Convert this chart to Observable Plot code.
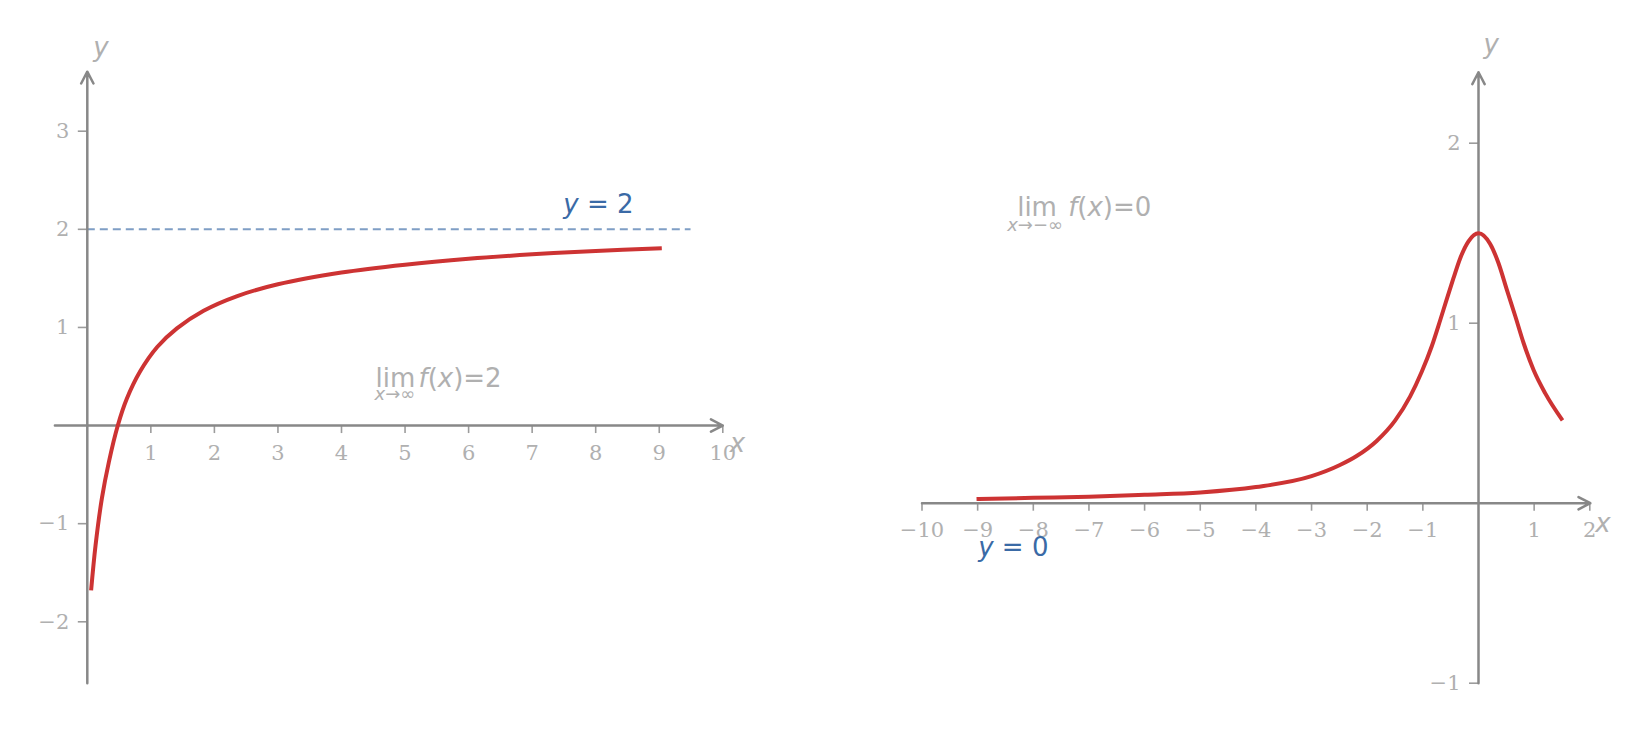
<!DOCTYPE html>
<html><head><meta charset="utf-8">
<script src="https://cdn.jsdelivr.net/npm/d3@7"></script>
<script src="https://cdn.jsdelivr.net/npm/@observablehq/plot@0.6"></script>
<style>
html,body{margin:0;padding:0;background:#fff;overflow:hidden;}
#wrap{position:relative;width:1649px;height:731px;}
#wrap svg{position:absolute;top:0;}
</style></head><body><div id="wrap"></div>
<script>
// ---------- data ----------
// Left panel: curve approaching y = 2 as x → ∞
const leftX = [0.06, 0.13, 0.23, 0.34, 0.48, 0.62, 0.83, 1.1, 1.41, 1.83, 2.36, 3.0, 4.0, 5.0, 6.0, 7.0, 8.0, 9.04];
const leftY = [-1.68, -1.22, -0.74, -0.37, 0, 0.27, 0.55, 0.80, 0.99, 1.17, 1.32, 1.44, 1.56, 1.64, 1.70, 1.745, 1.78, 1.807];
const leftAsymptote = [2];
const leftAsymptoteExtent = [0, 9.5];
const leftXTicks = [1, 2, 3, 4, 5, 6, 7, 8, 9, 10];
const leftXTickLabels = ["1", "2", "3", "4", "5", "6", "7", "8", "9", "10"];
const leftYTicks = [3, 2, 1, -1, -2];
const leftYTickLabels = ["3", "2", "1", "−1", "−2"];
const leftXAxisExtent = [-0.51, 10];
const leftYAxisExtent = [-2.625, 3.607];

// Right panel: bell-shaped curve approaching y = 0 as x → −∞
const rightX = [-9.02, -8, -7, -6, -5, -4, -3, -2.49, -2.19, -1.83, -1.5, -1.23, -1.02, -0.84, -0.69, -0.57, -0.45, -0.33, -0.18, 0, 0.21, 0.36, 0.51, 0.66, 0.81, 0.99, 1.2, 1.51];
const rightY = [0.023, 0.030, 0.036, 0.047, 0.060, 0.090, 0.150, 0.212, 0.262, 0.346, 0.459, 0.592, 0.73, 0.872, 1.015, 1.134, 1.25, 1.36, 1.455, 1.50, 1.44, 1.333, 1.185, 1.04, 0.89, 0.74, 0.61, 0.46];
const rightXTicks = [-10, -9, -8, -7, -6, -5, -4, -3, -2, -1, 1, 2];
const rightXTickLabels = ["−10", "−9", "−8", "−7", "−6", "−5", "−4", "−3", "−2", "−1", "1", "2"];
const rightYTicks = [2, 1, -1];
const rightYTickLabels = ["2", "1", "−1"];
const rightXAxisExtent = [-10, 2.01];
const rightYAxisExtent = [-1, 2.394];

// annotation anchors (data coordinates)
const leftAsymLabelPos = [7.49, 2.17];
const leftLimitPos = [4.535, 0.395];
const rightLimitPos = [-8.29, 1.598];
const rightAsymLabelPos = [-8.99, -0.296];

// ---------- styles ----------
const RED = "#cd3333";
const BLUE = "#3a6aa6";
const AXIS = "#888888";
const TICK = "#9c9c9c";
const LABEL = "#b0b0b0";
const SANS = "DejaVu Sans";
const SERIF = "DejaVu Serif";

const ctx = document.createElement("canvas").getContext("2d");
function measure(text, size, italic) {
  ctx.font = `${italic ? "italic " : ""}${size}px "${SANS}"`;
  return ctx.measureText(text).width;
}
// rich (math-like) text: parts continue after each other unless dx given
function richText(pos, parts, fill) {
  let cursor = 0, baseDy = 0;
  const marks = [];
  for (const p of parts) {
    const size = p.size ?? 26;
    const start = p.dx ?? cursor;
    const dy = p.dy ?? baseDy;
    marks.push(Plot.text([p.text], {
      x: () => pos[0], y: () => pos[1], text: d => d,
      dx: start, dy, textAnchor: "start", lineAnchor: "bottom",
      fontFamily: SANS, fontSize: size, fontStyle: p.italic ? "italic" : "normal", fill
    }));
    cursor = start + measure(p.text, size, p.italic);
    baseDy = dy;
  }
  return marks;
}

function axes(xTicks, xLabels, yTicks, yLabels, xExt, yExt, xLabelOff, yLabelOff) {
  return [
    Plot.ruleX(xTicks, {x: d => d, y1: 0, y2: 0, insetTop: 0, insetBottom: -8, stroke: TICK, strokeWidth: 1.6}),
    Plot.ruleY(yTicks, {y: d => d, x1: 0, x2: 0, insetLeft: -9, insetRight: 0, stroke: TICK, strokeWidth: 1.6}),
    Plot.arrow([0], {x1: xExt[0], x2: xExt[1], y1: 0, y2: 0, stroke: AXIS, strokeWidth: 2.5, headLength: 8, headAngle: 55}),
    Plot.arrow([0], {x1: 0, x2: 0, y1: yExt[0], y2: yExt[1], stroke: AXIS, strokeWidth: 2.5, headLength: 8, headAngle: 55}),
    Plot.text(xTicks, {x: d => d, y: 0, text: (d, i) => xLabels[i], dy: 34, lineAnchor: "bottom",
      fontFamily: SERIF, fontSize: 21, fill: LABEL}),
    Plot.text(yTicks, {x: 0, y: d => d, text: (d, i) => yLabels[i], dx: -18, textAnchor: "end", lineAnchor: "middle",
      fontFamily: SERIF, fontSize: 21, fill: LABEL}),
    Plot.text(["x"], {x: () => xExt[1], y: 0, text: d => d, dx: xLabelOff[0], dy: xLabelOff[1], textAnchor: "start", lineAnchor: "bottom",
      fontFamily: SANS, fontStyle: "italic", fontSize: 26, fill: LABEL}),
    Plot.text(["y"], {x: 0, y: () => yExt[1], text: d => d, dx: yLabelOff[0], dy: yLabelOff[1], textAnchor: "start", lineAnchor: "bottom",
      fontFamily: SANS, fontStyle: "italic", fontSize: 26, fill: LABEL})
  ];
}

const leftData = leftX.map((x, i) => ({x, y: leftY[i]}));
const rightData = rightX.map((x, i) => ({x, y: rightY[i]}));

const left = Plot.plot({
  width: 800, height: 731,
  marginLeft: 86.8, marginRight: 800 - 722.3, marginTop: 130.7, marginBottom: 731 - 621.3,
  x: {domain: [0, 10], axis: null},
  y: {domain: [-2, 3], axis: null},
  style: {overflow: "visible", background: "transparent"},
  marks: [
    Plot.ruleY(leftAsymptote, {y: d => d, x1: leftAsymptoteExtent[0], x2: leftAsymptoteExtent[1],
      stroke: BLUE, strokeOpacity: 0.65, strokeWidth: 2, strokeDasharray: "8,5"}),
    ...axes(leftXTicks, leftXTickLabels, leftYTicks, leftYTickLabels, leftXAxisExtent, leftYAxisExtent, [7, 26], [6, -16]),
    Plot.line(leftData, {x: "x", y: "y", curve: "catmull-rom", stroke: RED, strokeWidth: 4, strokeLinecap: "butt"}),
    ...richText(leftAsymLabelPos, [{text: "y", italic: true}, {text: " = 2"}], BLUE),
    ...richText(leftLimitPos, [
      {text: "lim", dx: 0},
      {text: "f", italic: true, dx: 43}, {text: "("}, {text: "x", italic: true}, {text: ")=2"},
      {text: "x", italic: true, size: 18, dx: -1, dy: 13.3}, {text: "→∞", size: 18}
    ], LABEL)
  ]
});

const right = Plot.plot({
  width: 849, height: 731,
  marginLeft: 921.5 - 800, marginRight: 1649 - 1589.3, marginTop: 142.7, marginBottom: 731 - 682.7,
  x: {domain: [-10, 2], axis: null},
  y: {domain: [-1, 2], axis: null},
  style: {overflow: "visible", background: "transparent"},
  marks: [
    ...axes(rightXTicks, rightXTickLabels, rightYTicks, rightYTickLabels, rightXAxisExtent, rightYAxisExtent, [5, 29], [5, -19]),
    Plot.line(rightData, {x: "x", y: "y", curve: "monotone-x", stroke: RED, strokeWidth: 4, strokeLinecap: "butt"}),
    ...richText(rightAsymLabelPos, [{text: "y", italic: true}, {text: " = 0"}], BLUE),
    ...richText(rightLimitPos, [
      {text: "lim", dx: 0},
      {text: "f", italic: true, dx: 51}, {text: "("}, {text: "x", italic: true}, {text: ")=0"},
      {text: "x", italic: true, size: 18, dx: -10, dy: 15}, {text: "→−∞", size: 18}
    ], LABEL)
  ]
});

left.style.left = "0px";
right.style.left = "800px";
document.getElementById("wrap").append(left, right);
</script>
</body></html>
